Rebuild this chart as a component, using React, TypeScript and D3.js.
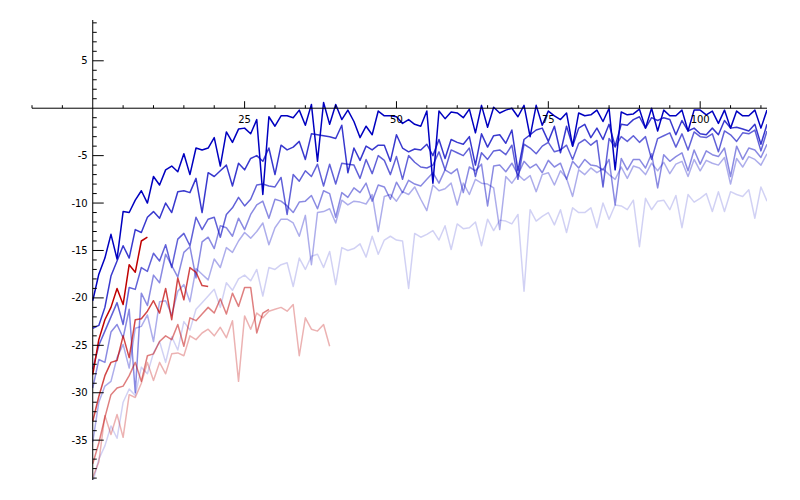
import * as d3 from 'd3'
import React, { useRef, useEffect } from 'react'

// values, one point per integer x starting at 0
const blue1 = [
  -20.3, -17.5, -15.8, -13.3, -15.9, -10.9, -11.0, -9.7, -8.7, -10.0,
  -7.2, -8.1, -6.5, -6.1, -6.7, -4.8, -7.0, -4.2, -4.4, -4.2,
  -3.1, -6.1, -2.5, -3.6, -2.2, -2.1, -2.7, -1.2, -9.1, -0.9,
  -1.9, -0.8, -0.8, -1.0, -0.2, -1.8, 0.4, -5.6, 0.6, -1.7,
  0.4, -1.2, -0.2, -1.4, -3.1, -1.9, -2.8, -0.3, -0.8, -0.8,
  -0.9, -1.6, -1.2, -1.7, -1.9, -0.3, -7.9, -0.3, -1.1, -0.4,
  -0.5, -1.0, -0.1, -2.6, 0.3, -2.0, 0.1, -0.5, -0.2, 0.0,
  -0.9, 0.3, -3.0, 0.3, -1.8, -0.3, -0.8, -1.2, -0.5, -4.0,
  -0.5, -0.8, -0.7, -0.2, -1.4, 0.0, -6.5, -0.4, -0.7, -0.6,
  -0.1, -2.1, 0.0, -2.4, -0.2, -0.8, -0.8, -0.2, -2.4, -0.2,
  -0.2, -0.7, -0.3, -1.6, -0.2, -2.1, -0.3, -0.8, -0.8, -0.2,
  -2.1, -0.2,
]
const blue2 = [
  -23.2, -22.9, -21.0, -17.7, -16.1, -14.5, -15.8, -12.8, -13.1, -11.5,
  -10.9, -11.6, -10.0, -11.0, -8.8, -8.7, -8.9, -7.4, -11.0, -6.8,
  -7.2, -6.6, -6.0, -8.2, -5.8, -6.5, -5.3, -5.0, -5.6, -4.2,
  -7.0, -3.9, -4.4, -4.1, -3.5, -5.4, -2.7, -2.8, -2.9, -3.0,
  -3.2, -1.8, -6.8, -4.2, -5.5, -4.0, -4.4, -3.9, -3.9, -5.6,
  -2.8, -4.2, -4.6, -4.3, -4.4, -3.8, -5.0, -3.3, -5.3, -3.3,
  -3.6, -3.8, -3.0, -6.0, -2.7, -4.1, -2.9, -2.8, -3.7, -2.3,
  -6.6, -3.3, -2.8, -2.3, -2.1, -3.5, -1.9, -4.7, -1.9, -4.0,
  -2.1, -1.7, -3.1, -2.1, -3.3, -1.7, -4.0, -1.7, -1.8, -1.2,
  -0.9, -2.1, -1.0, -1.3, -1.0, -1.2, -2.8, -1.3, -2.4, -2.1,
  -2.7, -2.8, -2.1, -2.8, -1.3, -2.1, -2.0, -2.2, -2.4, -1.7,
  -3.8, -1.7,
]
const blue3 = [
  -27.5, -25.0, -23.5, -22.0, -20.5, -22.8, -18.9, -19.1, -16.8, -17.2,
  -15.3, -16.1, -14.4, -16.8, -13.8, -13.2, -14.5, -11.5, -12.8, -11.7,
  -11.5, -13.6, -11.2, -10.5, -9.4, -10.3, -9.6, -8.1, -8.0, -8.2,
  -8.3, -7.3, -11.2, -7.0, -7.7, -6.6, -7.2, -5.9, -8.2, -5.9,
  -8.0, -5.8, -5.9, -6.0, -7.4, -5.4, -6.9, -5.0, -5.5, -7.0,
  -5.1, -7.5, -5.0, -5.7, -6.2, -6.3, -6.0, -4.6, -6.5, -4.4,
  -4.7, -5.0, -4.2, -7.2, -4.7, -5.4, -4.5, -4.4, -4.9, -3.9,
  -7.5, -3.8, -4.2, -4.8, -4.0, -3.6, -4.6, -4.4, -3.9, -5.4,
  -3.7, -3.3, -3.9, -3.4, -8.3, -3.2, -4.1, -3.0, -3.5, -2.9,
  -3.6, -3.0, -5.4, -3.2, -2.9, -2.6, -4.1, -2.7, -4.4, -2.5,
  -3.0, -3.1, -2.7, -4.6, -2.4, -2.8, -3.5, -2.6, -2.7, -2.3,
  -4.5, -2.4,
]
const blue4 = [
  -29.5, -26.5, -26.8, -23.6, -22.8, -24.2, -21.2, -30.0, -19.5, -20.8,
  -17.6, -18.4, -15.4, -16.6, -17.8, -15.2, -14.6, -17.9, -14.1, -13.6,
  -14.8, -12.4, -12.6, -13.5, -11.6, -12.8, -11.2, -10.2, -9.8, -11.6,
  -9.6, -9.8, -10.3, -11.0, -9.9, -9.8, -9.2, -10.6, -8.7, -9.0,
  -11.5, -8.9, -9.4, -8.4, -8.9, -7.9, -9.8, -8.1, -8.3, -9.6,
  -7.8, -8.9, -7.6, -8.0, -8.2, -7.5, -6.8, -7.9, -6.5, -6.9,
  -6.4, -8.9, -6.2, -6.6, -5.9, -10.3, -6.1, -6.0, -6.7, -5.8,
  -7.0, -5.6, -6.3, -5.9, -6.8, -5.5, -6.2, -5.8, -7.5, -5.6,
  -6.3, -5.4, -6.0, -6.1, -6.5, -5.4, -10.2, -5.3, -6.5, -5.4,
  -5.4, -6.3, -4.8, -8.4, -4.9, -5.6, -5.1, -4.7, -6.6, -4.4,
  -5.9, -4.5, -4.9, -5.1, -4.2, -7.2, -4.0, -5.4, -4.2, -4.4,
  -5.2, -3.8,
]
const blue5 = [
  -35.2, -31.0, -29.3, -28.8, -26.3, -24.9, -27.4, -23.2, -23.0, -21.8,
  -24.6, -20.4, -20.3, -21.8, -19.3, -18.6, -20.4, -16.9, -17.5, -18.1,
  -15.9, -16.8, -14.7, -15.2, -14.0, -13.1, -13.7, -13.0, -12.1, -14.4,
  -12.6, -11.7, -11.7, -12.1, -13.5, -11.3, -16.5, -11.0, -10.9, -10.6,
  -12.1, -9.7, -10.2, -9.8, -9.9, -10.1, -9.1, -13.0, -9.3, -9.1,
  -9.8, -8.8, -9.1, -8.3, -9.6, -10.8, -8.1, -8.7, -8.5, -7.9,
  -10.2, -7.9, -9.1, -7.5, -7.9, -8.0, -8.4, -12.8, -7.2, -7.9,
  -7.0, -7.6, -7.1, -8.8, -7.0, -6.8, -8.1, -6.6, -7.4, -9.3,
  -6.5, -7.0, -6.3, -6.8, -6.4, -7.0, -7.5, -6.2, -7.4, -6.1,
  -6.3, -7.0, -5.8, -6.6, -5.7, -6.9, -5.9, -5.6, -7.2, -5.4,
  -6.6, -5.5, -5.8, -6.0, -5.2, -8.0, -5.3, -6.2, -5.1, -5.4,
  -6.0, -4.8,
]
const blue6 = [
  -39.5, -37.0, -35.6, -33.5, -34.8, -31.0, -29.6, -30.3, -27.3, -28.0,
  -25.8, -24.6, -26.8, -24.1, -25.5, -22.5, -23.4, -21.2, -20.5, -19.8,
  -19.1, -21.0, -18.4, -19.2, -18.0, -17.6, -18.2, -17.0, -19.8, -16.8,
  -17.0, -16.5, -16.3, -18.8, -15.8, -17.0, -15.6, -15.4, -16.8, -15.1,
  -18.6, -14.7, -15.0, -14.8, -14.3, -15.7, -13.5, -15.4, -13.9, -13.5,
  -13.9, -14.0, -19.0, -13.2, -13.6, -13.3, -12.9, -13.9, -12.4, -14.9,
  -12.2, -12.7, -12.6, -12.0, -14.5, -11.7, -12.9, -11.8, -11.9, -12.2,
  -11.2, -19.3, -10.7, -11.9, -11.4, -11.0, -12.3, -10.7, -13.1, -10.5,
  -11.0, -11.0, -10.5, -12.6, -10.0, -11.7, -10.2, -10.3, -10.7, -9.7,
  -14.6, -9.5, -10.7, -9.8, -9.7, -10.7, -9.2, -12.6, -9.1, -9.9,
  -9.5, -9.0, -10.9, -8.8, -10.9, -8.8, -9.1, -9.3, -8.6, -11.6,
  -8.3, -9.8,
]
const red1 = [-28.1, -24.4, -22.3, -21.0, -19.0, -20.7, -16.5, -17.3, -14.0, -13.6]
const red2 = [
  -33.0, -30.4, -28.2, -26.8, -26.6, -24.0, -26.3, -22.3, -22.2, -21.4,
  -20.3, -21.6, -19.0, -22.3, -17.9, -20.2, -16.8, -17.3, -18.7, -18.8,
]
const red3 = [
  -37.5, -35.3, -32.6, -30.2, -29.5, -29.3, -28.2, -26.8, -28.8, -26.1,
  -25.9, -24.6, -24.0, -24.4, -22.8, -25.1, -22.1, -22.4, -21.7, -21.0,
  -21.6, -20.1, -21.7, -19.5, -20.9, -18.9, -18.9, -23.7, -21.6, -21.2,
]
const red4 = [
  -38.9, -37.3, -32.4, -34.4, -32.3, -34.7, -30.2, -30.5, -29.0, -26.8,
  -28.7, -26.8, -28.0, -25.9, -25.8, -26.1, -24.0, -24.4, -23.7, -23.3,
  -24.0, -23.1, -24.2, -22.4, -28.8, -21.9, -23.3, -21.6, -22.1, -21.4,
  -21.2, -21.0, -21.4, -20.7, -26.1, -22.1, -23.3, -23.5, -22.8, -25.1,
]

const xTickLabels = [25, 50, 75, 100]
const yTickLabels = [5, -5, -10, -15, -20, -25, -30, -35]

const App = () => {
  const ref = useRef(null)

  useEffect(() => {
    draw()
  }, [])

  const draw = () => {
    const left = 32
    const right = 767
    const top = 20
    const bottom = 480

    const xScale = d3.scaleLinear().domain([-10, 111]).range([left, right])
    const yScale = d3.scaleLinear().domain([-39.2, 9.3]).range([bottom, top])

    const svg = d3.select(ref.current)
    svg.selectAll('*').remove()

    svg
      .append('defs')
      .append('clipPath')
      .attr('id', 'plot-area')
      .append('rect')
      .attr('x', left)
      .attr('y', top)
      .attr('width', right - left)
      .attr('height', bottom - top)

    const line = d3
      .line<number>()
      .x((d, i) => xScale(i))
      .y((d) => yScale(d))

    // light ones first so the dark curves sit on top
    const series = [
      { values: blue6, color: '#0000c0', alpha: 0.18 },
      { values: blue5, color: '#0000c0', alpha: 0.32 },
      { values: blue4, color: '#0000c0', alpha: 0.46 },
      { values: blue3, color: '#0000c0', alpha: 0.62 },
      { values: blue2, color: '#0000c0', alpha: 0.78 },
      { values: blue1, color: '#0000c0', alpha: 1 },
      { values: red4, color: '#c00000', alpha: 0.3 },
      { values: red3, color: '#c00000', alpha: 0.5 },
      { values: red2, color: '#c00000', alpha: 0.72 },
      { values: red1, color: '#c00000', alpha: 1 },
    ]

    const plot = svg.append('g').attr('clip-path', 'url(#plot-area)')
    plot
      .selectAll('path')
      .data(series)
      .enter()
      .append('path')
      .attr('fill', 'none')
      .attr('stroke', (d) => d.color)
      .attr('stroke-opacity', (d) => d.alpha)
      .attr('stroke-width', 1.5)
      .attr('stroke-linejoin', 'round')
      .attr('d', (d) => line(d.values))

    const axes = svg.append('g').attr('stroke', '#000').attr('stroke-width', 1)
    const y0 = yScale(0)
    const x0 = xScale(0)

    axes.append('line').attr('x1', left).attr('x2', right).attr('y1', y0).attr('y2', y0)
    axes.append('line').attr('x1', x0).attr('x2', x0).attr('y1', top).attr('y2', bottom)

    // x ticks point up from the axis
    const xMinor = xScale.ticks(24).filter((t) => t !== 0 && !xTickLabels.includes(t))
    axes
      .selectAll('.xminor')
      .data(xMinor)
      .enter()
      .append('line')
      .attr('x1', (d) => xScale(d))
      .attr('x2', (d) => xScale(d))
      .attr('y1', y0)
      .attr('y2', y0 - 3)
    axes
      .selectAll('.xmajor')
      .data(xTickLabels)
      .enter()
      .append('line')
      .attr('x1', (d) => xScale(d))
      .attr('x2', (d) => xScale(d))
      .attr('y1', y0)
      .attr('y2', y0 - 7)

    // y ticks point right from the axis
    const yMinor = d3.range(-39, 10).filter((t) => t !== 0 && !yTickLabels.includes(t))
    axes
      .selectAll('.yminor')
      .data(yMinor)
      .enter()
      .append('line')
      .attr('x1', x0)
      .attr('x2', x0 + 4)
      .attr('y1', (d) => yScale(d))
      .attr('y2', (d) => yScale(d))
    axes
      .selectAll('.ymajor')
      .data(yTickLabels)
      .enter()
      .append('line')
      .attr('x1', x0)
      .attr('x2', x0 + 11)
      .attr('y1', (d) => yScale(d))
      .attr('y2', (d) => yScale(d))

    const labels = svg
      .append('g')
      .attr('font-family', 'DejaVu Sans')
      .attr('font-size', 10)
      .attr('fill', '#000')

    labels
      .selectAll('.xlab')
      .data(xTickLabels)
      .enter()
      .append('text')
      .attr('x', (d) => xScale(d))
      .attr('y', y0 + 15)
      .attr('text-anchor', 'middle')
      .text((d) => String(d))

    labels
      .selectAll('.ylab')
      .data(yTickLabels)
      .enter()
      .append('text')
      .attr('x', x0 - 5)
      .attr('y', (d) => yScale(d) + 3.5)
      .attr('text-anchor', 'end')
      .text((d) => String(d))
  }

  return (
    <div style={{ position: 'absolute', left: 0, top: 0 }}>
      <svg ref={ref} width={800} height={500} style={{ display: 'block', background: '#fff' }} />
    </div>
  )
}

export default App
